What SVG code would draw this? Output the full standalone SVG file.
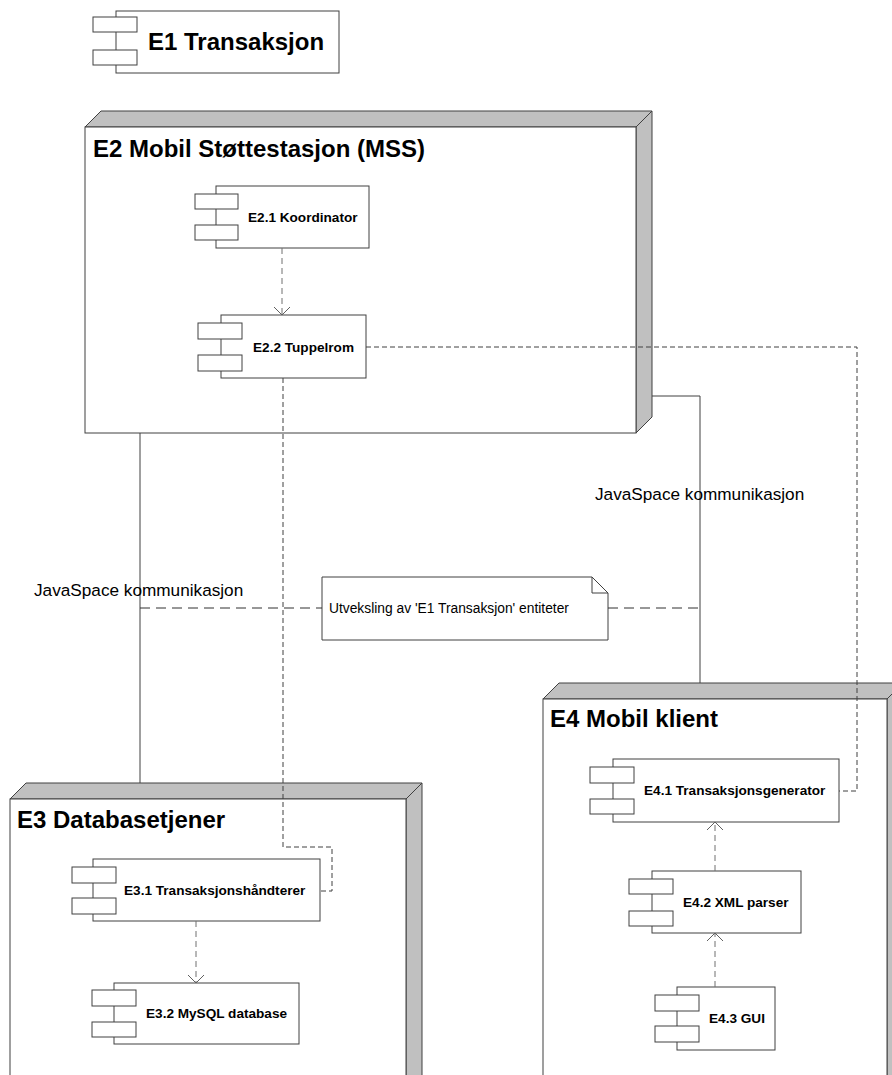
<svg xmlns="http://www.w3.org/2000/svg" width="892" height="1075" viewBox="0 0 892 1075">
  <style>
    .face { fill: #ffffff; stroke: #404040; stroke-width: 1; }
    .side { fill: #c0c0c0; stroke: #404040; stroke-width: 1; }
    .comp { fill: #ffffff; stroke: #404040; stroke-width: 1; }
    .title { font-family: "Liberation Sans", Arial, sans-serif; font-weight: bold; font-size: 24px; fill: #000; }
    .clabel { font-family: "Liberation Sans", Arial, sans-serif; font-weight: bold; font-size: 13.6px; fill: #000; }
    .plain { font-family: "Liberation Sans", Arial, sans-serif; font-size: 13.8px; fill: #000; }
    .assoc-label { font-family: "Liberation Sans", Arial, sans-serif; font-size: 17.2px; fill: #000; }
    .solid { fill: none; stroke: #404040; stroke-width: 1; }
    .dep { fill: none; stroke: #707070; stroke-width: 1; stroke-dasharray: 6 4; }
    .route { fill: none; stroke: #404040; stroke-width: 1; stroke-dasharray: 5 3; }
    .anchor { fill: none; stroke: #303030; stroke-width: 1; stroke-dasharray: 10 6; }
    .head { fill: none; stroke: #606060; stroke-width: 1; }
  </style>

  <!-- E1 component -->
  <g id="e1">
    <rect class="comp" x="116" y="11" width="223" height="62"/>
    <rect class="comp" x="93" y="17" width="44" height="15"/>
    <rect class="comp" x="93" y="50" width="44" height="15"/>
    <text class="title" x="148" y="50">E1 Transaksjon</text>
  </g>

  <!-- E2 node -->
  <g id="e2">
    <polygon class="side" points="85,127 101,111 652,111 636,127"/>
    <polygon class="side" points="636,127 652,111 652,417 636,433"/>
    <rect class="face" x="85" y="127" width="551" height="306"/>
    <text class="title" x="93" y="157">E2 Mobil Støttestasjon (MSS)</text>
  </g>

  <g id="e2-1">
    <rect class="comp" x="216" y="186" width="153" height="62"/>
    <rect class="comp" x="195" y="194" width="43" height="15"/>
    <rect class="comp" x="195" y="225" width="43" height="15"/>
    <text class="clabel" x="248" y="222">E2.1 Koordinator</text>
  </g>

  <g id="e2-2">
    <rect class="comp" x="221" y="315" width="145" height="63"/>
    <rect class="comp" x="198" y="323" width="44" height="16"/>
    <rect class="comp" x="198" y="355" width="44" height="16"/>
    <text class="clabel" x="253" y="352">E2.2 Tuppelrom</text>
  </g>

  <!-- E3 node -->
  <g id="e3">
    <polygon class="side" points="10,799 26,783 422,783 406,799"/>
    <polygon class="side" points="406,799 422,783 422,1090 406,1090"/>
    <rect class="face" x="10" y="799" width="396" height="300"/>
    <text class="title" x="17" y="828">E3 Databasetjener</text>
  </g>

  <g id="e3-1">
    <rect class="comp" x="93" y="859" width="227" height="62"/>
    <rect class="comp" x="72" y="867" width="44" height="16"/>
    <rect class="comp" x="72" y="898" width="44" height="16"/>
    <text class="clabel" x="124" y="895">E3.1 Transaksjonshåndterer</text>
  </g>

  <g id="e3-2">
    <rect class="comp" x="114" y="983" width="185" height="61"/>
    <rect class="comp" x="92" y="990" width="44" height="16"/>
    <rect class="comp" x="92" y="1022" width="44" height="15"/>
    <text class="clabel" x="146" y="1018">E3.2 MySQL database</text>
  </g>

  <!-- E4 node -->
  <g id="e4">
    <polygon class="side" points="543,699 559,683 903,683 887,699"/>
    <polygon class="side" points="887,699 903,683 903,1090 887,1090"/>
    <rect class="face" x="543" y="699" width="344" height="400"/>
    <text class="title" x="550" y="727">E4 Mobil klient</text>
  </g>

  <g id="e4-1">
    <rect class="comp" x="613" y="759" width="226" height="63"/>
    <rect class="comp" x="590" y="767" width="44" height="16"/>
    <rect class="comp" x="590" y="799" width="44" height="15"/>
    <text class="clabel" x="644" y="795">E4.1 Transaksjonsgenerator</text>
  </g>

  <g id="e4-2">
    <rect class="comp" x="652" y="871" width="149" height="62"/>
    <rect class="comp" x="629" y="879" width="44" height="15"/>
    <rect class="comp" x="629" y="911" width="44" height="15"/>
    <text class="clabel" x="683" y="907">E4.2 XML parser</text>
  </g>

  <g id="e4-3">
    <rect class="comp" x="677" y="987" width="98" height="63"/>
    <rect class="comp" x="655" y="995" width="44" height="16"/>
    <rect class="comp" x="655" y="1026" width="44" height="16"/>
    <text class="clabel" x="709" y="1023">E4.3 GUI</text>
  </g>

  <!-- note -->
  <g id="note">
    <polygon class="face" points="322,577 592,577 608,593 608,640 322,640"/>
    <polyline class="solid" points="592,577 592,593 608,593"/>
    <text class="plain" x="329" y="613">Utveksling av 'E1 Transaksjon' entiteter</text>
  </g>

  <!-- connectors -->
  <g id="connectors">
    <!-- communication paths -->
    <line class="solid" x1="140" y1="433" x2="140" y2="783"/>
    <polyline class="solid" points="652,396 700,396 700,683"/>
    <text class="assoc-label" x="34" y="596">JavaSpace kommunikasjon</text>
    <text class="assoc-label" x="595" y="500">JavaSpace kommunikasjon</text>

    <!-- note anchors -->
    <line class="anchor" x1="140" y1="608" x2="322" y2="608"/>
    <line class="anchor" x1="608" y1="608" x2="700" y2="608"/>

    <!-- dependencies -->
    <line class="dep" x1="282" y1="248" x2="282" y2="314"/>
    <polyline class="head" points="274,307 282,315 290,307"/>

    <line class="dep" x1="196" y1="921" x2="196" y2="982"/>
    <polyline class="head" points="188,975 196,983 204,975"/>

    <line class="dep" x1="715" y1="871" x2="715" y2="823"/>
    <polyline class="head" points="707,830 715,822 723,830"/>

    <line class="dep" x1="715" y1="987" x2="715" y2="934"/>
    <polyline class="head" points="707,941 715,933 723,941"/>

    <!-- tuple space routes -->
    <polyline class="route" points="366,347 857,347 857,791 839,791"/>
    <polyline class="route" points="283,378 283,847 332,847 332,891 320,891"/>
  </g>
</svg>
